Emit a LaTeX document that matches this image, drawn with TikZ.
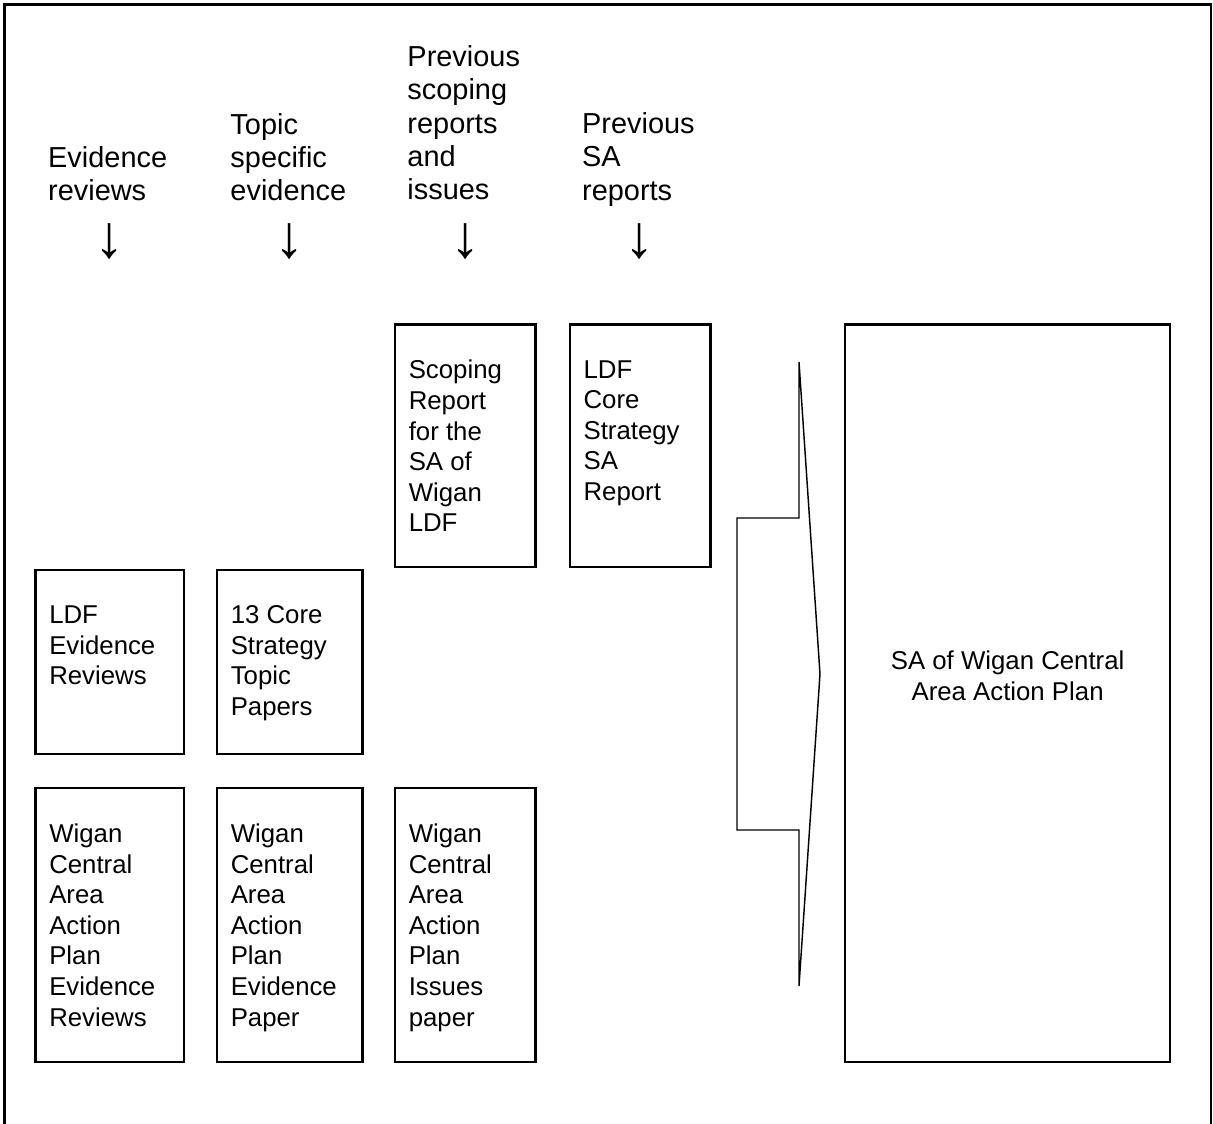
\documentclass[tikz,border=0pt]{standalone}
\usepackage{fontspec}
\setmainfont{Liberation Sans}
\usepackage{tikz}
\usetikzlibrary{positioning}
\newcommand{\PX}{0.415pt}

\begin{document}
\begin{tikzpicture}[
    x=0.415pt, y=-0.415pt,
    docbox/.style 2 args={draw, line width=1pt, inner sep=0pt, minimum width=#1*\PX, minimum height=#2*\PX},
    boxtext/.style={anchor=north west, inner sep=0pt, align=left, font=\fontsize{10.7}{12.7}\selectfont},
    headtext/.style={anchor=north west, inner sep=0pt, align=left, font=\fontsize{12}{13.8}\selectfont},
    downglyph/.style={inner sep=0pt, font=\fontsize{25}{25}\selectfont}
]

\useasboundingbox (0,0) rectangle (1213,1124);

% Outer frame (runs off the bottom)
\draw[line width=1pt] (4.7,1124) -- (4.7,4.7) -- (1211,4.7) -- (1211,1124);

% Source headings
\node[headtext] (evrevhead) at (47.7,146) {Evidence\\reviews};
\node[headtext] (topichead) at (230,112.6) {Topic\\specific\\evidence};
\node[headtext] (scopehead) at (407,45.3) {Previous\\scoping\\reports\\and\\issues};
\node[headtext] (sahead) at (581.7,112.3) {Previous\\SA\\reports};

% Down arrows under the headings
\node[downglyph] (evrevarrow) at (110,241) {↓};
\node[downglyph] (topicarrow) at (289.3,241) {↓};
\node[downglyph] (scopearrow) at (466,241) {↓};
\node[downglyph] (saarrow) at (640,241) {↓};

% Upper documents
\node[docbox={148.5}{184}] (ldfrev) at (109.75,662) {};
\node[boxtext] (ldfrevtxt) at ([shift={(14.5,36.5)}]ldfrev.north west) {LDF\\Evidence\\Reviews};
\node[docbox={145.5}{184}] (topicpap) at (289.75,662) {};
\node[boxtext] (topicpaptxt) at ([shift={(14.5,36.5)}]topicpap.north west) {13 Core\\Strategy\\Topic\\Papers};
\node[docbox={140.7}{242.7}] (scoperep) at (465.35,445.85) {};
\node[boxtext] (scopereptxt) at ([shift={(14.5,36.5)}]scoperep.north west) {Scoping\\Report\\for the\\SA of\\Wigan\\LDF};
\node[docbox={140.9}{242.7}] (csrep) at (640.25,445.85) {};
\node[boxtext] (csreptxt) at ([shift={(14.5,36.5)}]csrep.north west) {LDF\\Core\\Strategy\\SA\\Report};

% Lower documents
\node[docbox={148.5}{274}] (aaprev) at (109.75,925) {};
\node[boxtext] (aaprevtxt) at ([shift={(14.5,36.5)}]aaprev.north west) {Wigan\\Central\\Area\\Action\\Plan\\Evidence\\Reviews};
\node[docbox={145.5}{274}] (aappap) at (289.75,925) {};
\node[boxtext] (aappaptxt) at ([shift={(14.5,36.5)}]aappap.north west) {Wigan\\Central\\Area\\Action\\Plan\\Evidence\\Paper};
\node[docbox={140.7}{274}] (aapiss) at (465.35,925) {};
\node[boxtext] (aapisstxt) at ([shift={(14.5,36.5)}]aapiss.north west) {Wigan\\Central\\Area\\Action\\Plan\\Issues\\paper};

% Chevron into the SA
\draw[line width=0.6pt, line join=miter] (799,362) -- (799,518) -- (737,518) -- (737,830)
    -- (799,830) -- (799,986) -- (820,674) -- cycle;

% SA of the AAP
\node[docbox={324.8}{737.5}] (saaap) at (1007.6,693.25) {};
\node[align=center, inner sep=0pt, font=\fontsize{10.7}{12.7}\selectfont] (saaaptxt) at (1007.6,676) {SA of Wigan Central\\Area Action Plan};

\end{tikzpicture}
\end{document}
